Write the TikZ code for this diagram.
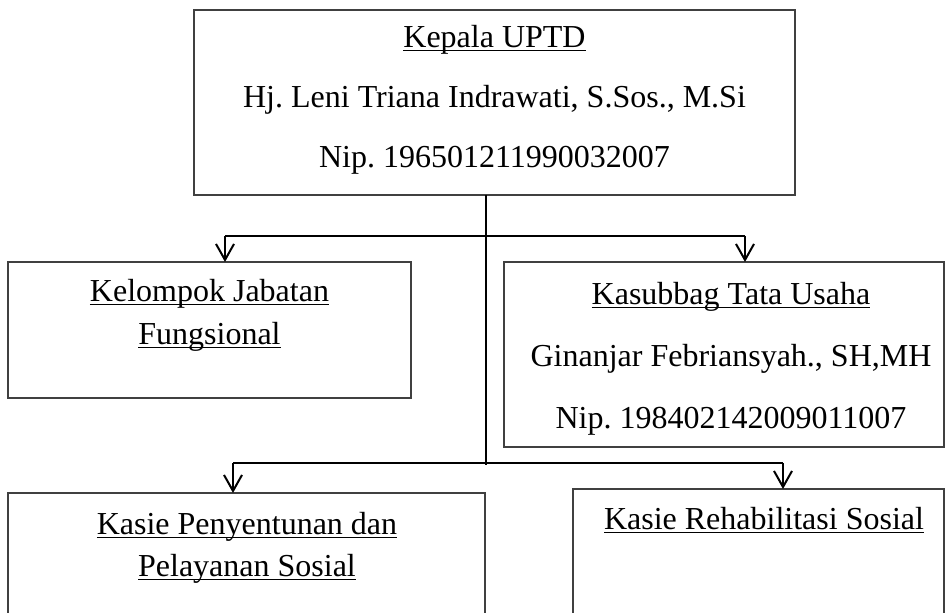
\documentclass[tikz,border=0pt]{standalone}
\usepackage{fontspec}
\setmainfont{Liberation Serif}
\usetikzlibrary{arrows.meta}
\newcommand{\uln}[1]{\underline{\smash{#1}}}
\frenchspacing

\begin{document}
\begin{tikzpicture}[x=0.5pt, y=-0.5pt, font=\fontsize{16}{19}\selectfont,
    box/.style={draw=black!75, line width=0.7pt, inner sep=0pt, outer sep=0pt},
    label/.style={anchor=base, inner sep=0pt},
    link/.style={line width=1pt},
    arr/.style={link, -{Straight Barb[length=8pt, width=9pt]}}]
    \useasboundingbox (0,0) rectangle (947,613);
    \clip (0,0) rectangle (947,613);

    % Boxes
    \node[box, minimum width=300.5pt, minimum height=92.5pt] (kepala) at (494.5,102.5) {};
    \node[box, minimum width=201.5pt, minimum height=68pt] (kjf) at (209.5,330) {};
    \node[box, minimum width=220pt, minimum height=92.5pt] (tu) at (724,354.5) {};
    \node[box, minimum width=238.5pt, minimum height=95pt] (pps) at (246.5,588) {};
    \node[box, minimum width=185.5pt, minimum height=96pt] (rs) at (758.5,585) {};

    % Texts
    \node[label] (kepala1) at (494.5,48) {\uln{Kepala UPTD}};
    \node[label] (kepala2) at (494.5,108) {Hj. Leni Triana Indrawati, S.Sos., M.Si};
    \node[label] (kepala3) at (494.5,168) {Nip. 196501211990032007};

    \node[label] (kjf1) at (209.5,302) {\uln{Kelompok Jabatan}};
    \node[label] (kjf2) at (209.5,345) {\uln{Fungsional}};

    \node[label] (tu1) at (731,305) {\uln{Kasubbag Tata Usaha}};
    \node[label] (tu2) at (731,367) {Ginanjar Febriansyah., SH,MH};
    \node[label] (tu3) at (731,429) {Nip. 198402142009011007};

    \node[label] (pps1) at (247,535) {\uln{Kasie Penyentunan dan}};
    \node[label] (pps2) at (247,577) {\uln{Pelayanan Sosial}};

    \node[label] (rs1) at (764,530) {\uln{Kasie Rehabilitasi Sosial}};

    % Connectors
    \coordinate (trunkend) at (486,465);
    \coordinate (ja) at (225,236);
    \coordinate (jb) at (745,236);
    \coordinate (jc) at (233,463);
    \coordinate (jd) at (783,463);

    \draw[link] (kepala.south -| trunkend) -- (trunkend);
    \draw[link] (ja) -- (jb);
    \draw[link] (jc) -- (jd);

    \draw[arr] (ja) -- (ja |- kjf.north);
    \draw[arr] (jb) -- (jb |- tu.north);
    \draw[arr] (jc) -- (jc |- pps.north);
    \draw[arr] (jd) -- (jd |- rs.north);

\end{tikzpicture}
\end{document}
